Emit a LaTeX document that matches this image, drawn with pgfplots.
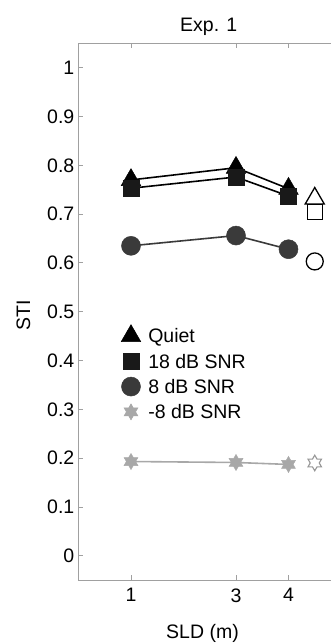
\documentclass[border=0pt]{standalone}
\usepackage{fontspec}
\setmainfont{Liberation Sans}
\usepackage{pgfplots}
\pgfplotsset{compat=1.18}
\pgfdeclareplotmark{hexstar}{%
  \pgfpathmoveto{\pgfpointpolar{90}{\pgfplotmarksize}}%
  \pgfpathlineto{\pgfpointpolar{120}{0.57735\pgfplotmarksize}}%
  \pgfpathlineto{\pgfpointpolar{150}{\pgfplotmarksize}}%
  \pgfpathlineto{\pgfpointpolar{180}{0.57735\pgfplotmarksize}}%
  \pgfpathlineto{\pgfpointpolar{210}{\pgfplotmarksize}}%
  \pgfpathlineto{\pgfpointpolar{240}{0.57735\pgfplotmarksize}}%
  \pgfpathlineto{\pgfpointpolar{270}{\pgfplotmarksize}}%
  \pgfpathlineto{\pgfpointpolar{300}{0.57735\pgfplotmarksize}}%
  \pgfpathlineto{\pgfpointpolar{330}{\pgfplotmarksize}}%
  \pgfpathlineto{\pgfpointpolar{0}{0.57735\pgfplotmarksize}}%
  \pgfpathlineto{\pgfpointpolar{30}{\pgfplotmarksize}}%
  \pgfpathlineto{\pgfpointpolar{60}{0.57735\pgfplotmarksize}}%
  \pgfpathclose
  \pgfusepathqfillstroke}
\definecolor{axgray}{HTML}{A0A0A0}
\definecolor{dgray}{HTML}{3A3A3A}
\definecolor{lgray}{HTML}{A8A8A8}
\begin{document}
\fontsize{19.5bp}{23bp}\selectfont
\begin{tikzpicture}
\useasboundingbox (-78.5bp,-62.9bp) rectangle (252.5bp,580.1bp);
\begin{axis}[
  at={(0,0)}, anchor=south west,
  scale only axis, width=257.25bp, height=536.8bp,
  xmin=0, xmax=4.9, ymin=-0.05, ymax=1.05,
  clip=false,
  xtick={1,3,4}, ytick={0,0.1,...,1},
  tick align=inside, major tick length=5bp,
  every tick/.style={axgray, line width=0.8bp},
  axis line style={axgray, line width=0.8bp},
  ytick pos=left,
  /pgf/number format/assume math mode=true,
  yticklabel style={anchor=east, inner sep=0pt, xshift=-4bp},
  xticklabel style={anchor=north, inner sep=0pt, yshift=-8.2bp},
  xlabel={SLD (m)},
  xlabel style={at={(axis cs:2.362,-0.1693)}, anchor=base, inner sep=0pt},
  ylabel={STI},
  ylabel style={at={(axis cs:-0.92,0.4932)}, anchor=base, inner sep=0pt},
  legend style={at={(0.1691,0.4678)}, anchor=north west, draw=none, fill=none,
    inner sep=0pt, outer sep=0pt, row sep=11.3bp, column sep=8.3bp,
    nodes={inner sep=0pt, text height=14bp, text depth=0pt}},
  legend cell align=left,
  legend image code/.code={%
    \begin{pgfinterruptboundingbox}\draw[#1] plot coordinates {(0bp,0bp)};\end{pgfinterruptboundingbox}%
    \pgfpathrectangle{\pgfpoint{-9bp}{-7bp}}{\pgfpoint{18bp}{14bp}}\pgfusepath{discard}},
]
\addplot[black, line width=1.6bp, mark=triangle*, mark size=11.3bp,
  mark options={solid, fill=black, draw=black, line width=0.5bp}]
  coordinates {(1,0.770) (3,0.795) (4,0.752)};
\addlegendentry{Quiet}
\addplot[black, line width=1.6bp, mark=square*, mark size=8bp,
  mark options={solid, fill=black!90, draw=black!90, line width=0.5bp}]
  coordinates {(1,0.753) (3,0.776) (4,0.737)};
\addlegendentry{18 dB SNR}
\addplot[dgray, line width=1.6bp, mark=*, mark size=9.5bp,
  mark options={solid, fill=dgray, draw=dgray, line width=0.5bp}]
  coordinates {(1,0.635) (3,0.656) (4,0.628)};
\addlegendentry{8 dB SNR}
\addplot[lgray, line width=1.6bp, mark=hexstar, mark size=8bp,
  mark options={solid, fill=lgray, draw=lgray, line width=0.5bp}]
  coordinates {(1,0.193) (3,0.191) (4,0.187)};
\addlegendentry{-8 dB SNR}
\addplot[forget plot, only marks, mark=triangle, mark size=11bp,
  mark options={draw=black, fill=white, line width=1.3bp}]
  coordinates {(4.5,0.732)};
\addplot[forget plot, only marks, mark=square, mark size=7.5bp,
  mark options={draw=black, fill=white, line width=1.3bp}]
  coordinates {(4.5,0.705)};
\addplot[forget plot, only marks, mark=o, mark size=8.5bp,
  mark options={draw=black, fill=white, line width=1.3bp}]
  coordinates {(4.5,0.603)};
\addplot[forget plot, only marks, mark=hexstar, mark size=7.8bp,
  mark options={draw=lgray!90!black, fill=white, line width=1.1bp}]
  coordinates {(4.5,0.190)};
\node[anchor=base west, inner sep=0pt] at (axis cs:1.933,1.0746) {Exp. 1};
\end{axis}
\end{tikzpicture}
\end{document}
